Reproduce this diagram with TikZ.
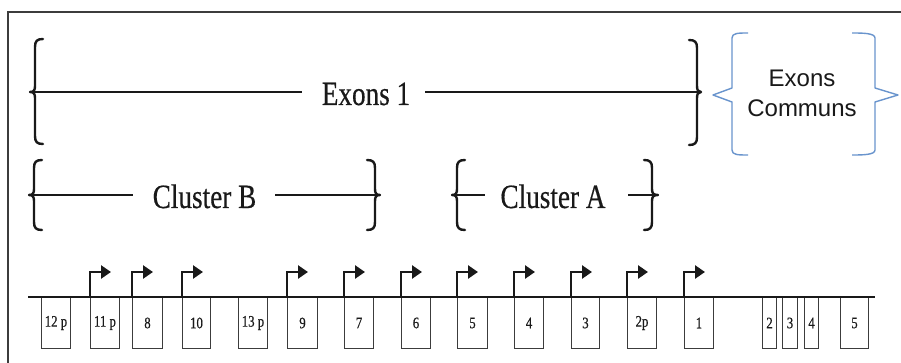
\documentclass[tikz,border=0pt]{standalone}
\usepackage{fontspec}
\usepackage{graphicx}
\setmainfont{Liberation Serif}
\newfontfamily\scanserif{Liberation Serif}[FakeBold=0.5]
\newfontfamily\arialf{Liberation Sans}
\usetikzlibrary{arrows.meta}
\definecolor{ink}{RGB}{25,25,25}
\definecolor{bluebr}{RGB}{105,148,205}
\definecolor{boxgray}{RGB}{60,60,60}
\newcommand\bracL[5]{% X, tipX, top, mid, bot
  \draw[bracestyle] ({#1+8},#3) .. controls ({#1+2},#3) and (#1,{#3+2}) .. (#1,{#3+8})
    -- (#1,{#4-6}) .. controls (#1,{#4-2}) and ({#1-1},#4) .. (#2,#4)
    .. controls ({#1-1},#4) and (#1,{#4+2}) .. (#1,{#4+6})
    -- (#1,{#5-8}) .. controls (#1,{#5-2}) and ({#1+2},#5) .. ({#1+8},#5);}
\newcommand\bracR[5]{% X, tipX, top, mid, bot
  \draw[bracestyle] ({#1-8},#3) .. controls ({#1-2},#3) and (#1,{#3+2}) .. (#1,{#3+8})
    -- (#1,{#4-6}) .. controls (#1,{#4-2}) and ({#1+1},#4) .. (#2,#4)
    .. controls ({#1+1},#4) and (#1,{#4+2}) .. (#1,{#4+6})
    -- (#1,{#5-8}) .. controls (#1,{#5-2}) and ({#1-2},#5) .. ({#1-8},#5);}
\tikzset{
  bracestyle/.style={draw=ink, line width=2.4pt, line cap=round, line join=round},
  barline/.style={draw=ink, line width=2.2pt},
  biglabel/.style={text=ink, inner sep=0pt, font=\scanserif\fontsize{34}{40}\selectfont},
  exon/.style={draw=boxgray, line width=1pt, inner sep=0pt, minimum height=51, anchor=north west,
    text=ink, font=\scanserif\fontsize{16}{18}\selectfont},
  prom/.style={draw=ink, line width=2.6pt, -{Triangle[length=10pt,width=13pt]}},
  geneline/.style={draw=ink, line width=2.7pt},
  frame/.style={draw={rgb,255:red,60;green,60;blue,60}, line width=1.3pt},
  bluebrace/.style={draw=bluebr, line width=1.4pt, line join=round}
}
\begin{document}
\begin{tikzpicture}[x=1pt,y=-1pt]
\useasboundingbox (0,0) rectangle (901,363);
\fill[white] (0,0) rectangle (901,363);
% frame
\draw[frame] (901,12) -- (8,12) -- (8,363);

% Exons 1
\bracL{35}{30}{39}{92}{144}
\bracR{697}{701}{40}{92}{145}
\coordinate (e1L) at (30,92);
\coordinate (e1R) at (701,92);
\node[biglabel, anchor=base] (exons1) at (366,105) {\scalebox{0.8}[1]{Exons 1}};
\draw[barline] (e1L) -- (e1L -| {302,0});
\draw[barline] (e1R) -- (e1R -| {425,0});

% Cluster B
\bracL{34}{29}{160}{195}{230}
\bracR{375}{380}{160}{195}{230}
\coordinate (cbL) at (29,195);
\coordinate (cbR) at (380,195);
\node[biglabel, anchor=base] (clusterB) at (204.5,208) {\scalebox{0.8}[1]{Cluster B}};
\draw[barline] (cbL) -- (cbL -| {133,0});
\draw[barline] (cbR) -- (cbR -| {275,0});

% Cluster A
\bracL{457}{452}{160}{195}{230}
\bracR{652}{658}{160}{195}{230}
\coordinate (caL) at (452,195);
\coordinate (caR) at (658,195);
\node[biglabel, anchor=base] (clusterA) at (553,208) {\scalebox{0.8}[1]{Cluster A}};
\draw[barline] (caL) -- (caL -| {485,0});
\draw[barline] (caR) -- (caR -| {628,0});

% Exons Communs
\draw[bluebrace] (748,33) .. controls (738,33) and (732,33) .. (732,38) -- (732,88) -- (713,95) -- (732,102) -- (732,150) .. controls (732,155) and (738,155) .. (748,155);
\draw[bluebrace] (852,33) .. controls (862,33) and (875,33) .. (875,38) -- (875,88) -- (898,95) -- (875,102) -- (875,150) .. controls (875,155) and (862,155) .. (852,155);
\node[align=center, text=ink, inner sep=0pt, font=\arialf\fontsize{24}{30}\selectfont] (communs) at (802,93) {Exons\\Communs};

% exons
\foreach \n/\l/\r/\t in {a/41/70/12 p, b/90/119/11 p, c/132/162/8, d/182/210/10, e/238/267/13 p,
  f/287/317/9, g/344/373/7, h/401/430/6, i/457/487/5, j/514/543/4, k/571/599/3, l/627/656/2p,
  m/684/713/1, n/762/776/2, o/782/797/3, p/804/818/4, q/840/868/5}
  \node[exon, minimum width={\r-\l}] (box\n) at (\l,297) {\scalebox{0.8}[1]{\t}};

% gene line
\coordinate (gL) at (28,297);
\coordinate (gR) at (875,297);
\draw[geneline] (gL) -- (gR);

% promoter arrows
\foreach \n in {b,c,d,f,g,h,i,j,k,l,m}
  \draw[prom] (box\n.north west) -- ++(0,-25) -- ++(21,0);
\end{tikzpicture}
\end{document}
